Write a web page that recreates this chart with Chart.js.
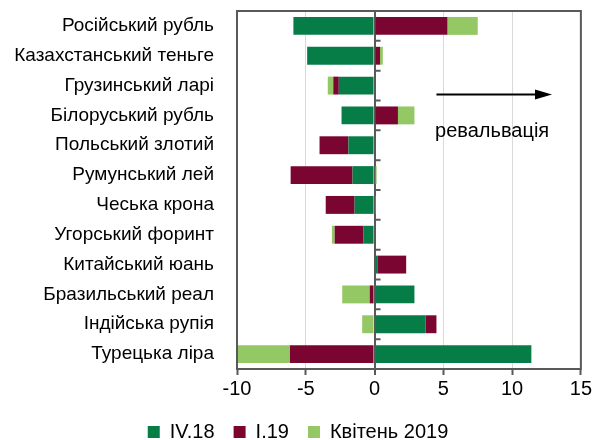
<!DOCTYPE html>
<html>
<head>
<meta charset="utf-8">
<script src="https://cdn.jsdelivr.net/npm/chart.js@4"></script>
<style>
  html, body { margin: 0; padding: 0; background: #fff; }
  #wrap { width: 594px; height: 440px; }
</style>
</head>
<body>
<div id="wrap"><canvas id="chart"></canvas></div>
<script>
const currencies = [
  'Російський рубль', 'Казахстанський теньге', 'Грузинський ларі', 'Білоруський рубль',
  'Польський злотий', 'Румунський лей', 'Чеська крона', 'Угорський форинт',
  'Китайський юань', 'Бразильський реал', 'Індійська рупія', 'Турецька ліра'
];
const q4_18 = [-5.9, -4.9, -2.6, -2.4, -1.9, -1.6, -1.45, -0.8, 0.2, 2.9, 3.7, 11.4];
const q1_19 = [5.3, 0.4, -0.4, 1.7, -2.1, -4.5, -2.1, -2.1, 2.1, -0.35, 0.8, -6.15];
const april19 = [2.2, 0.2, -0.4, 1.2, 0, 0.15, 0.05, -0.2, 0, -2.0, -0.9, -3.85];
const xTicks = [-10, -5, 0, 5, 10, 15];

const font = "'Liberation Sans', Arial, sans-serif";
const axisColor = '#595959';

// frame, ticks on the zero line, arrow and label
const extras = {
  id: 'extras',
  afterDatasetsDraw(chart) {
    const { ctx, chartArea: a, scales: { x, y } } = chart;
    const x0 = x.getPixelForValue(0);
    ctx.save();
    ctx.strokeStyle = axisColor;
    ctx.lineWidth = 2;
    ctx.beginPath();
    for (let i = 0; i < currencies.length - 1; i++) {
      const yy = (y.getPixelForValue(i) + y.getPixelForValue(i + 1)) / 2;
      ctx.moveTo(x0, yy);
      ctx.lineTo(x0 + 6, yy);
    }
    ctx.stroke();
    ctx.strokeRect(a.left, a.top, a.right - a.left, a.bottom - a.top);

    // arrow
    const ay = (y.getPixelForValue(2) + y.getPixelForValue(3)) / 2 - 6;
    const ax1 = x.getPixelForValue(4.5), ax2 = x.getPixelForValue(12.9);
    ctx.strokeStyle = '#000';
    ctx.fillStyle = '#000';
    ctx.lineWidth = 2;
    ctx.beginPath();
    ctx.moveTo(ax1, ay);
    ctx.lineTo(ax2 - 14, ay);
    ctx.stroke();
    ctx.beginPath();
    ctx.moveTo(ax2, ay);
    ctx.lineTo(ax2 - 17, ay - 5);
    ctx.lineTo(ax2 - 17, ay + 5);
    ctx.closePath();
    ctx.fill();

    ctx.font = '20px ' + font;
    ctx.textBaseline = 'middle';
    ctx.textAlign = 'left';
    ctx.fillText('ревальвація', x.getPixelForValue(4.4), (y.getPixelForValue(3) + y.getPixelForValue(4)) / 2 + 1);
    ctx.restore();
  }
};

new Chart(document.getElementById('chart'), {
  type: 'bar',
  data: {
    labels: currencies,
    datasets: [
      { label: 'IV.18', data: q4_18, backgroundColor: '#067d47' },
      { label: 'I.19', data: q1_19, backgroundColor: '#7a0530' },
      { label: 'Квітень 2019', data: april19, backgroundColor: '#93c864' }
    ]
  },
  options: {
    indexAxis: 'y',
    responsive: true,
    maintainAspectRatio: false,
    animation: false,
    datasets: { bar: { barPercentage: 0.6, categoryPercentage: 1 } },
    layout: { padding: { top: 11, right: -2, left: 0, bottom: -12 } },
    plugins: {
      legend: {
        position: 'bottom',
        labels: {
          boxWidth: 12, boxHeight: 12, padding: 19,
          color: '#000', font: { family: font, size: 20 }
        }
      },
      tooltip: { enabled: false }
    },
    scales: {
      x: {
        stacked: true,
        min: -10, max: 15,
        afterBuildTicks(scale) { scale.ticks = xTicks.map(v => ({ value: v })); },
        grid: {
          color: ctx => ctx.tick && ctx.tick.value === 0 ? axisColor : '#d9d9d9',
          lineWidth: ctx => ctx.tick && ctx.tick.value === 0 ? 2 : 1,
          tickColor: axisColor, tickLength: 6, tickWidth: 2
        },
        border: { display: false },
        ticks: { color: '#000', font: { family: font, size: 20 }, padding: 2, maxRotation: 0 }
      },
      y: {
        stacked: true,
        afterFit(scale) {
          scale.width = 237;
          scale.paddingTop = 0;
          scale.paddingBottom = 0;
        },
        grid: { display: false },
        border: { display: false },
        ticks: { color: '#000', font: { family: font, size: 19 }, padding: 15 }
      }
    }
  },
  plugins: [extras]
});
</script>
</body>
</html>
